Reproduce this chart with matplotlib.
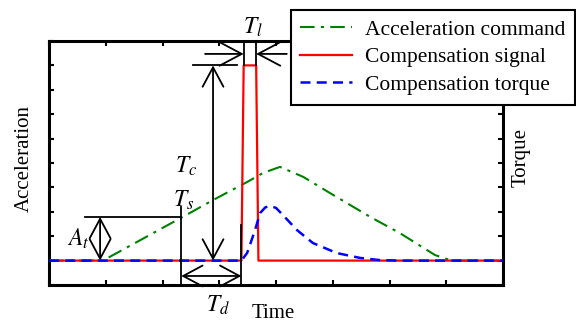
import matplotlib
matplotlib.use("Agg")
import matplotlib.pyplot as plt

plt.rcParams['font.family'] = ['Liberation Serif', 'DejaVu Serif']
plt.rcParams['mathtext.fontset'] = 'stix'

# curves (x: time units 0..8, y: acceleration/torque units 0..10)
acc_x = [0, 0.95, 2.48, 2.89, 3.49, 3.77, 4.07, 4.48, 4.95, 5.66, 6.18, 6.80, 7.0, 7.15, 8]
acc_y = [1, 1, 2.95, 3.48, 4.22, 4.59, 4.84, 4.43, 3.77, 2.79, 2.13, 1.23, 1.07, 1, 1]

sig_x = [0, 3.39, 3.43, 3.65, 3.69, 8]
sig_y = [1, 1, 9.0, 9.0, 1, 1]

tq_x = [0, 3.39, 3.49, 3.54, 3.63, 3.72, 3.81, 3.89, 4.0, 4.12, 4.37, 4.65, 5.07, 5.48, 5.83, 6.18, 8]
tq_y = [1, 1, 1.31, 1.64, 2.25, 2.95, 3.18, 3.24, 3.16, 2.87, 2.25, 1.72, 1.31, 1.11, 1.02, 1, 1]

fig = plt.figure(figsize=(5.76, 3.22), dpi=100)
ax = fig.add_axes([0.0851, 0.1149, 0.7882, 0.7578])

ax.plot(acc_x, acc_y, color='#008000', lw=1.5, ls=(0, (7, 3, 1.5, 3)),
        label='Acceleration command', zorder=2)
ax.plot(sig_x, sig_y, color='red', lw=1.6, label='Compensation signal', zorder=3)
ax.plot(tq_x, tq_y, color='blue', lw=1.8, ls=(0, (4, 2.5)),
        label='Compensation torque', zorder=4)

ax.set_xlim(0, 8)
ax.set_ylim(0, 10)
ax.set_xticks(range(0, 9))
ax.set_yticks(range(0, 11))
ax.set_xticklabels([])
ax.set_yticklabels([])
ax.tick_params(direction='in', length=3.6, width=1.5, top=True, right=True)
for s in ax.spines.values():
    s.set_linewidth(2.2)

# annotation guide lines
k = dict(color='k', lw=1.3, zorder=5)
ax.plot([3.43, 3.43], [9.0, 10], clip_on=False, **k)
ax.plot([3.65, 3.65], [9.0, 10], clip_on=False, **k)
ax.plot([2.54, 3.31], [9.0, 9.0], **k)
ax.plot([2.33, 2.33], [0, 3.2], **k)
ax.plot([0.63, 2.33], [2.79, 2.79], **k)
ax.plot([3.39, 3.39], [0, 2.46], **k)

a1 = dict(arrowstyle='->,head_length=1.6,head_width=0.85', color='k', lw=1.3,
          shrinkA=0, shrinkB=0)
a2 = dict(arrowstyle='<->,head_length=1.4,head_width=0.75', color='k', lw=1.3,
          shrinkA=0, shrinkB=0)
ax.annotate('', xy=(3.43, 9.47), xytext=(2.75, 9.47), arrowprops=a1, annotation_clip=False)
ax.annotate('', xy=(3.65, 9.47), xytext=(4.19, 9.47), arrowprops=a1, annotation_clip=False)
ax.annotate('', xy=(2.89, 9.0), xytext=(2.89, 1.0), arrowprops=a2)
ax.annotate('', xy=(0.9, 2.79), xytext=(0.9, 1.0), arrowprops=a2)
ax.annotate('', xy=(2.33, 0.37), xytext=(3.39, 0.37), arrowprops=a2)

fs = 15
ms = 17
fig.text(253 / 576, 1 - 27 / 322, r'$T_l$', fontsize=ms, ha='center', va='center')
fig.text(186 / 576, 1 - 166 / 322, r'$T_c$', fontsize=ms, ha='center', va='center')
fig.text(184 / 576, 1 - 200 / 322, r'$T_s$', fontsize=ms, ha='center', va='center')
fig.text(78 / 576, 1 - 239 / 322, r'$A_t$', fontsize=ms, ha='center', va='center')
fig.text(218 / 576, 1 - 305 / 322, r'$T_d$', fontsize=ms, ha='center', va='center')

fig.text(273 / 576, 1 - 313 / 322, 'Time', fontsize=fs, ha='center', va='center')
fig.text(24 / 576, 1 - 159 / 322, 'Acceleration', fontsize=fs, ha='center', va='center',
         rotation=90)
fig.text(521 / 576, 1 - 158 / 322, 'Torque', fontsize=fs, ha='center', va='center',
         rotation=90)

leg = fig.legend(loc='upper right', bbox_to_anchor=(0.998, 0.969), fontsize=15.5,
                 frameon=True, fancybox=False, framealpha=1, edgecolor='k',
                 handlelength=2.4, handletextpad=0.6, labelspacing=0.35,
                 borderpad=0.45, borderaxespad=0)
leg.get_frame().set_linewidth(1.5)

fig.savefig('out.png', dpi=100)
